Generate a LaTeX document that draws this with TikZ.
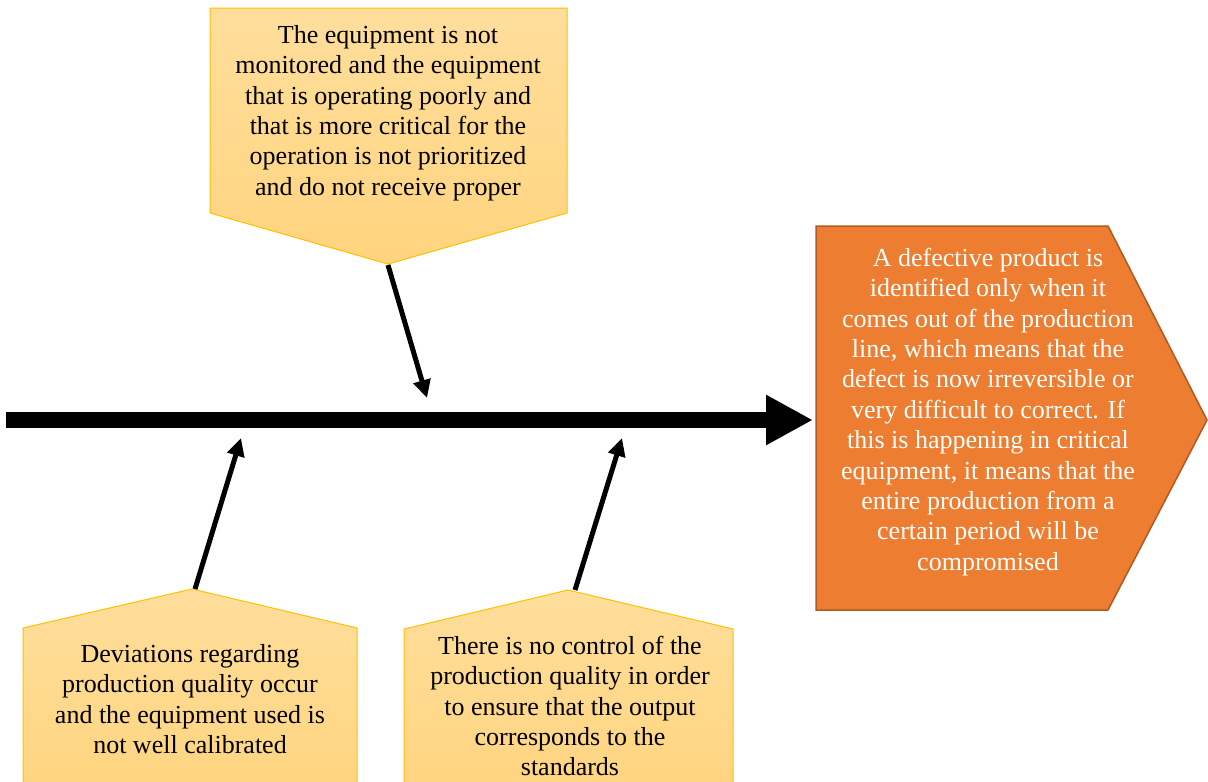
\documentclass[tikz,border=0pt]{standalone}
\usepackage{fontspec}
\setmainfont{Liberation Serif}
\usetikzlibrary{arrows.meta}
\definecolor{causefillA}{HTML}{FFDE9C}
\definecolor{causefillB}{HTML}{FFD47E}
\definecolor{causeedge}{HTML}{FFC000}
\definecolor{effectfill}{HTML}{ED7D31}
\definecolor{effectedge}{HTML}{AE5A21}
\tikzset{
  causebox/.style={draw=causeedge, line width=1pt, top color=causefillA, bottom color=causefillB, line join=miter},
  effectbox/.style={draw=effectedge, line width=1.5pt, fill=effectfill},
  boxtext/.style={align=center, inner sep=0pt, font=\fontsize{26}{30.4}\selectfont},
  spine/.style={line width=16pt, -{Triangle[length=47pt,width=47pt]}},
  bone/.style={line width=5pt, -{Triangle[length=18pt,width=17pt]}}
}
\begin{document}
\begin{tikzpicture}[x=1pt,y=-1pt]
\useasboundingbox (0,0) rectangle (1208,782);

% cause shapes
\path[causebox] (210,8) -- (567,8) -- (567,213) -- (388,264) -- (210,213) -- cycle;
\path[causebox] (23,800) -- (23,628) -- (192,589) -- (357,628) -- (357,800);
\path[causebox] (404,800) -- (404,629) -- (568,590) -- (733,629) -- (733,800);
% effect shape
\path[effectbox] (816,226) -- (1108,226) -- (1207,420) -- (1108,610) -- (816,610) -- cycle;

% anchor points of the bones and the spine
\coordinate (topapex) at (388,265);
\coordinate (leftapex) at (195,589);
\coordinate (midapex) at (575,590);
\coordinate (toptip) at (427,398);
\coordinate (lefttip) at (241,438);
\coordinate (midtip) at (622,438);
\coordinate (tail) at (6,420);
\coordinate (head) at (813,420);

% texts
\node[boxtext] (cause1) at (388,113) {The equipment is not\\monitored and the equipment\\that is operating poorly and\\that is more critical for the\\operation is not prioritized\\and do not receive proper};
\node[boxtext] (cause2) at (190,699) {Deviations regarding\\production quality occur\\and the equipment used is\\not well calibrated};
\node[boxtext] (cause3) at (570,706) {There is no control of the\\production quality in order\\to ensure that the output\\corresponds to the\\standards};
\node[boxtext, text=white] (effect) at (988,412) {A defective product is\\identified only when it\\comes out of the production\\line, which means that the\\defect is now irreversible or\\very difficult to correct. If\\this is happening in critical\\equipment, it means that the\\entire production from a\\certain period will be\\compromised};

% arrows
\draw[spine] (tail) -- (head);
\draw[bone] (topapex) -- (toptip);
\draw[bone] (leftapex) -- (lefttip);
\draw[bone] (midapex) -- (midtip);
\end{tikzpicture}
\end{document}
